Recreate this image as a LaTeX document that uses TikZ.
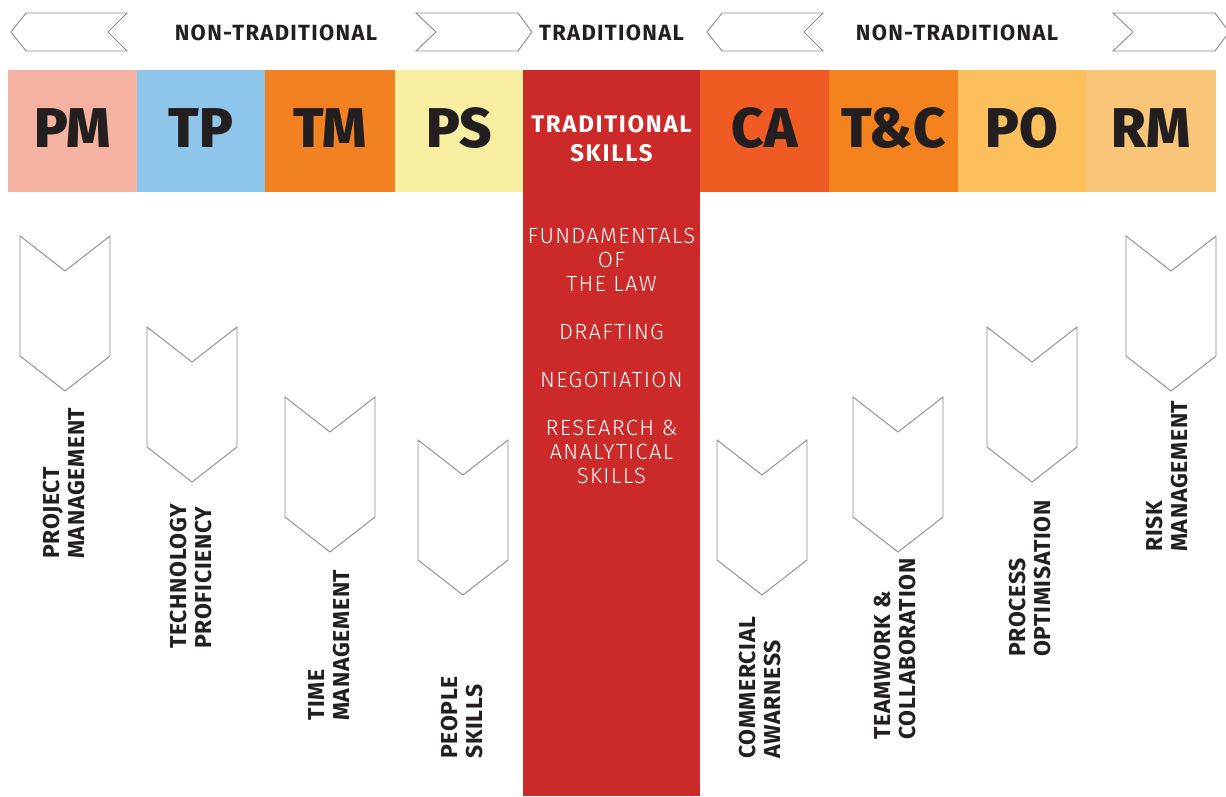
\documentclass[tikz,border=0pt]{standalone}
\usepackage{fontspec}
\setmainfont{Fira Sans}
\newfontfamily\lightfont{Fira Sans Light}[LetterSpace=6]
\newfontfamily\heavyfont{Fira Sans ExtraBold}
\definecolor{ink}{HTML}{231F20}
\definecolor{linegray}{HTML}{8A8A8A}
\definecolor{cpm}{HTML}{F5B2A0}
\definecolor{ctp}{HTML}{8EC5EA}
\definecolor{ctm}{HTML}{F28121}
\definecolor{cps}{HTML}{F7EEA2}
\definecolor{cred}{HTML}{CC2A28}
\definecolor{cca}{HTML}{F05B24}
\definecolor{ctc}{HTML}{F3821F}
\definecolor{cpo}{HTML}{FBBF5B}
\definecolor{crm}{HTML}{F8C579}
\tikzset{
  chev/.style={draw=linegray, line width=0.9pt, line join=miter},
  abbr/.style={font=\heavyfont\fontsize{56}{60}\selectfont, text=ink, anchor=base, inner sep=0pt},
  head/.style={font=\bfseries\addfontfeatures{LetterSpace=6}\fontsize{22}{24}\selectfont, text=ink, anchor=base, inner sep=0pt},
  skill/.style={font=\bfseries\addfontfeatures{LetterSpace=3}\fontsize{23}{25}\selectfont, text=ink, rotate=90, anchor=base west, inner sep=0pt},
  trad/.style={font=\bfseries\addfontfeatures{LetterSpace=7}\fontsize{24}{26}\selectfont, text=white, anchor=base, inner sep=0pt},
  tradline/.style={font=\lightfont\fontsize{22}{24}\selectfont, text=white, anchor=base, inner sep=0pt},
}
\newcommand\chevshape[3]{\draw[chev] (#1,#2) coordinate (#3) -- ++(45,35) -- ++(45,-35) -- ++(0,120) -- ++(-45,35) -- ++(-45,-35) -- cycle;}
\newcommand\leftarrowshape[2]{\draw[chev] (#1,32) coordinate (#2) -- ++(15,-19) -- ++(101,0) -- ++(-19,19) -- ++(19,19) -- ++(-101,0) -- cycle;}
\newcommand\rightarrowshape[2]{\draw[chev] (#1,13) coordinate (#2) -- ++(102,0) -- ++(14,19) -- ++(-14,19) -- ++(-102,0) -- ++(20,-19) -- cycle;}
\begin{document}
\begin{tikzpicture}[x=1pt,y=-1pt]
\useasboundingbox (0,0) rectangle (1226,796);
\fill[white] (0,0) rectangle (1226,796);

% top arrows and headings
\leftarrowshape{11}{a1}
\rightarrowshape{416}{a2}
\leftarrowshape{707}{a3}
\rightarrowshape{1113}{a4}
\node[head] (h1) at (276,40) {NON-TRADITIONAL};
\node[head] (h2) at (611.5,40) {TRADITIONAL};
\node[head] (h3) at (957,40) {NON-TRADITIONAL};

% colour boxes
\fill[cpm] (8,70) rectangle (137,192);
\fill[ctp] (137,70) rectangle (265,192);
\fill[ctm] (265,70) rectangle (395,192);
\fill[cps] (395,70) rectangle (523,192);
\fill[cred] (523,70) rectangle (700,796);
\fill[cca] (700,70) rectangle (829,192);
\fill[ctc] (829,70) rectangle (958,192);
\fill[cpo] (958,70) rectangle (1086,192);
\fill[crm] (1086,70) rectangle (1216,192);

\node[abbr] (pm) at (72.5,147) {PM};
\node[abbr] (tp) at (201,147) {TP};
\node[abbr] (tm) at (330,147) {TM};
\node[abbr] (ps) at (459,147) {PS};
\node[abbr] (ca) at (764.5,147) {CA};
\node[abbr] (tc) at (893.5,147) {T\&C};
\node[abbr] (po) at (1022,147) {PO};
\node[abbr] (rm) at (1151,147) {RM};
\node[trad] (t1) at (611.5,132) {TRADITIONAL};
\node[trad] (t2) at (611.5,161) {SKILLS};

% traditional skills list
\node[tradline] (l1) at (611.5,243) {FUNDAMENTALS};
\node[tradline] (l2) at (611.5,267) {OF};
\node[tradline] (l3) at (611.5,291) {THE LAW};
\node[tradline] (l4) at (611.5,339) {DRAFTING};
\node[tradline] (l5) at (611.5,387) {NEGOTIATION};
\node[tradline] (l6) at (611.5,435) {RESEARCH \&};
\node[tradline] (l7) at (611.5,459) {ANALYTICAL};
\node[tradline] (l8) at (611.5,483) {SKILLS};

% chevrons
\chevshape{20}{236}{c1}
\chevshape{147}{327}{c2}
\chevshape{285}{397}{c3}
\chevshape{418}{440}{c4}
\chevshape{717}{440}{c5}
\chevshape{853}{397}{c6}
\chevshape{987}{327}{c7}
\chevshape{1126}{236}{c8}

% rotated labels
\node[skill] (s1a) at (59,559) {PROJECT};
\node[skill] (s1b) at (84,559) {MANAGEMENT};
\node[skill] (s2a) at (186,649) {TECHNOLOGY};
\node[skill] (s2b) at (211,649) {PROFICIENCY};
\node[skill] (s3a) at (324,721) {TIME};
\node[skill] (s3b) at (349,721) {MANAGEMENT};
\node[skill] (s4a) at (457,759) {PEOPLE};
\node[skill] (s4b) at (482,759) {SKILLS};
\node[skill] (s5a) at (755,759) {COMMERCIAL};
\node[skill] (s5b) at (780,759) {AWARNESS};
\node[skill] (s6a) at (890,740) {TEAMWORK \&};
\node[skill] (s6b) at (915,740) {COLLABORATION};
\node[skill] (s7a) at (1025,657) {PROCESS};
\node[skill] (s7b) at (1050,657) {OPTIMISATION};
\node[skill] (s8a) at (1162,552) {RISK};
\node[skill] (s8b) at (1187,552) {MANAGEMENT};
\end{tikzpicture}
\end{document}
